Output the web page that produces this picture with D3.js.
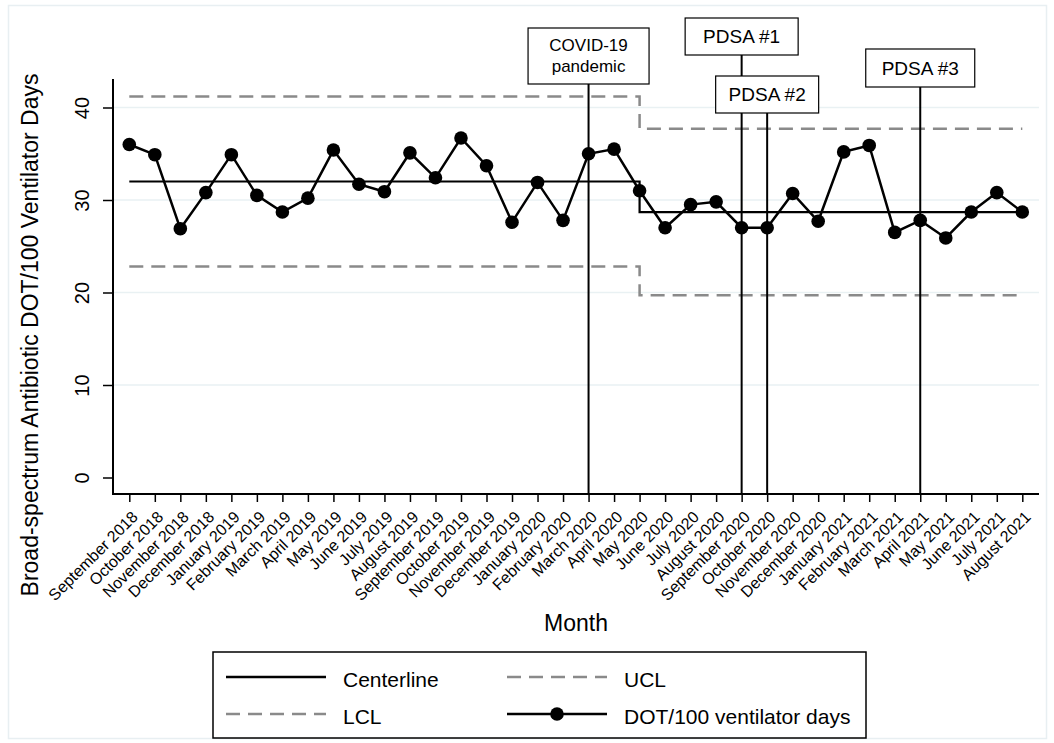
<!DOCTYPE html>
<html>
<head>
<meta charset="utf-8">
<script src="https://cdn.jsdelivr.net/npm/d3@7"></script>
<style>
  body { margin: 0; background: #fff; }
  svg text { font-family: "Liberation Sans", Arial, Helvetica, sans-serif; fill: #000; }
</style>
</head>
<body>
<script>
// months on the x axis
var months = ["September 2018", "October 2018", "November 2018", "December 2018",
    "January 2019", "February 2019", "March 2019", "April 2019", "May 2019", "June 2019",
    "July 2019", "August 2019", "September 2019", "October 2019", "November 2019",
    "December 2019", "January 2020", "February 2020", "March 2020", "April 2020",
    "May 2020", "June 2020", "July 2020", "August 2020", "September 2020", "October 2020",
    "November 2020", "December 2020", "January 2021", "February 2021", "March 2021",
    "April 2021", "May 2021", "June 2021", "July 2021", "August 2021"];

// DOT/100 ventilator days
var dotValues = [36.0, 34.9, 26.9, 30.8, 34.9, 30.5, 28.7, 30.2, 35.4, 31.7,
    30.9, 35.1, 32.4, 36.7, 33.7, 27.6, 31.9, 27.8, 35.0, 35.5,
    31.0, 27.0, 29.5, 29.8, 27.0, 27.0, 30.7, 27.7, 35.2, 35.9,
    26.5, 27.8, 25.9, 28.7, 30.8, 28.7];

// control chart phases
var phaseStart = ["September 2018", "May 2020"];
var phaseEnd = ["May 2020", "August 2021"];
var centerValues = [32.0, 28.7];
var uclValues = [41.2, 37.7];
var lclValues = [22.8, 19.7];

var yTicks = [0, 10, 20, 30, 40];

// annotations
var noteMonths = ["March 2020", "September 2020", "October 2020", "April 2021"];
var noteLabels = [["COVID-19", "pandemic"], ["PDSA #1"], ["PDSA #2"], ["PDSA #3"]];

// box layout for each annotation (top, bottom, width, font size)
var noteBoxes = [
    { top: 28, bottom: 84, w: 121, fs: 17 },
    { top: 18, bottom: 55, w: 113, fs: 19 },
    { top: 76, bottom: 113, w: 103, fs: 19 },
    { top: 49, bottom: 87, w: 109, fs: 19 }
];

var W = 1054, H = 743;
var svg = d3.select("body").append("svg")
    .attr("width", W)
    .attr("height", H);

// outer graph region border
svg.append("rect")
    .attr("x", 8.5).attr("y", 5.5)
    .attr("width", 1038).attr("height", 733)
    .style("fill", "none")
    .style("stroke", "#e8eff2")
    .style("stroke-width", 1.5);

var x = d3.scaleLinear().domain([0, months.length - 1]).range([129.3, 1022.3]);
var y = d3.scaleLinear().domain([0, 40]).range([477.5, 107.5]);
var plotLeft = 113, plotRight = 1039, plotTop = 79, plotBottom = 494;
var idx = function (m) { return months.indexOf(m); };

// gridlines
svg.append("g").selectAll("line")
    .data(yTicks.filter(function (d) { return d > 0; }))
    .enter().append("line")
    .attr("x1", plotLeft).attr("x2", plotRight)
    .attr("y1", function (d) { return y(d); })
    .attr("y2", function (d) { return y(d); })
    .style("stroke", "#e9f1f3")
    .style("stroke-width", 1.5);

// y axis
var yAxis = svg.append("g")
    .attr("transform", "translate(" + plotLeft + ",0)")
    .call(d3.axisLeft(y).tickValues(yTicks).tickSize(10).tickFormat(d3.format("d")));
yAxis.select(".domain").remove();
yAxis.selectAll(".tick line").style("stroke", "#000").style("stroke-width", 1.5);
yAxis.selectAll(".tick text")
    .attr("x", null).attr("dy", "0.35em")
    .attr("transform", "translate(-31,0) rotate(-90)")
    .style("text-anchor", "middle")
    .style("font-size", "20px");

// x axis
var xAxis = svg.append("g")
    .attr("transform", "translate(0," + plotBottom + ")")
    .call(d3.axisBottom(x).tickValues(d3.range(months.length)).tickSize(8)
        .tickFormat(function (i) { return months[i]; }));
xAxis.select(".domain").remove();
xAxis.selectAll(".tick line").style("stroke", "#000").style("stroke-width", 1.5);
xAxis.selectAll(".tick text")
    .attr("y", null).attr("dy", "0.35em")
    .attr("transform", "translate(5,20) rotate(-45)")
    .style("text-anchor", "end")
    .style("font-size", "16px");

// axis lines
svg.append("path")
    .attr("d", "M" + plotLeft + "," + plotTop + "V" + plotBottom + "H" + plotRight)
    .style("fill", "none")
    .style("stroke", "#000")
    .style("stroke-width", 2);

// axis titles
svg.append("text")
    .attr("transform", "translate(30,335) rotate(-90)")
    .attr("dy", "0.35em")
    .style("text-anchor", "middle")
    .style("font-size", "23px")
    .text("Broad-spectrum Antibiotic DOT/100 Ventilator Days");

svg.append("text")
    .attr("x", 576).attr("y", 623)
    .attr("dy", "0.35em")
    .style("text-anchor", "middle")
    .style("font-size", "23px")
    .text("Month");

// step lines for centerline / limits
var stepLine = d3.line()
    .x(function (d) { return x(d[0]); })
    .y(function (d) { return y(d[1]); })
    .curve(d3.curveStepAfter);

function phasePoints(vals) {
    var pts = [];
    for (var p = 0; p < vals.length; p++) {
        pts.push([idx(phaseStart[p]), vals[p]]);
    }
    var last = phaseEnd[phaseEnd.length - 1];
    pts.push([idx(last), vals[vals.length - 1]]);
    return pts;
}

[uclValues, lclValues].forEach(function (vals) {
    svg.append("path")
        .attr("d", stepLine(phasePoints(vals)))
        .style("fill", "none")
        .style("stroke", "#8a8a8a")
        .style("stroke-width", 2.5)
        .style("stroke-dasharray", "14,8");
});

svg.append("path")
    .attr("d", stepLine(phasePoints(centerValues)))
    .style("fill", "none")
    .style("stroke", "#000")
    .style("stroke-width", 2.2);

// annotation lines and boxes
noteMonths.forEach(function (m, k) {
    var cx = x(idx(m));
    var b = noteBoxes[k];
    svg.append("line")
        .attr("x1", cx).attr("x2", cx)
        .attr("y1", b.bottom).attr("y2", plotBottom)
        .style("stroke", "#000")
        .style("stroke-width", 2);
    svg.append("rect")
        .attr("x", cx - b.w / 2).attr("y", b.top)
        .attr("width", b.w).attr("height", b.bottom - b.top)
        .style("fill", "#fff")
        .style("stroke", "#000")
        .style("stroke-width", 1.2);
    var lines = noteLabels[k];
    var lh = 21;
    var mid = (b.top + b.bottom) / 2;
    lines.forEach(function (t, j) {
        svg.append("text")
            .attr("x", cx)
            .attr("y", mid + (j - (lines.length - 1) / 2) * lh)
            .attr("dy", "0.35em")
            .style("text-anchor", "middle")
            .style("font-size", b.fs + "px")
            .text(t);
    });
});

// data series
var dataLine = d3.line()
    .x(function (d, i) { return x(i); })
    .y(function (d) { return y(d); });

svg.append("path")
    .attr("d", dataLine(dotValues))
    .style("fill", "none")
    .style("stroke", "#000")
    .style("stroke-width", 2.5);

svg.append("g").selectAll("circle")
    .data(dotValues)
    .enter().append("circle")
    .attr("cx", function (d, i) { return x(i); })
    .attr("cy", function (d) { return y(d); })
    .attr("r", 6.8)
    .style("fill", "#000");

// legend
var lg = svg.append("g");
lg.append("rect")
    .attr("x", 213).attr("y", 652)
    .attr("width", 653).attr("height", 86)
    .style("fill", "#fff")
    .style("stroke", "#000")
    .style("stroke-width", 1.5);

var legendItems = [
    { label: "Centerline", col: 0, row: 0, dash: null, color: "#000", marker: false },
    { label: "UCL", col: 1, row: 0, dash: "14,8", color: "#8a8a8a", marker: false },
    { label: "LCL", col: 0, row: 1, dash: "14,8", color: "#8a8a8a", marker: false },
    { label: "DOT/100 ventilator days", col: 1, row: 1, dash: null, color: "#000", marker: true }
];
var colX = [226, 507];
var rowY = [677, 714];
legendItems.forEach(function (it) {
    var x0 = colX[it.col], yy = rowY[it.row];
    lg.append("line")
        .attr("x1", x0).attr("x2", x0 + 100)
        .attr("y1", yy).attr("y2", yy)
        .style("stroke", it.color)
        .style("stroke-width", 2.5)
        .style("stroke-dasharray", it.dash);
    if (it.marker) {
        lg.append("circle")
            .attr("cx", x0 + 50).attr("cy", yy).attr("r", 6.8)
            .style("fill", "#000");
    }
    lg.append("text")
        .attr("x", x0 + 117).attr("y", yy + 3)
        .attr("dy", "0.35em")
        .style("font-size", "21px")
        .text(it.label);
});
</script>
</body>
</html>
